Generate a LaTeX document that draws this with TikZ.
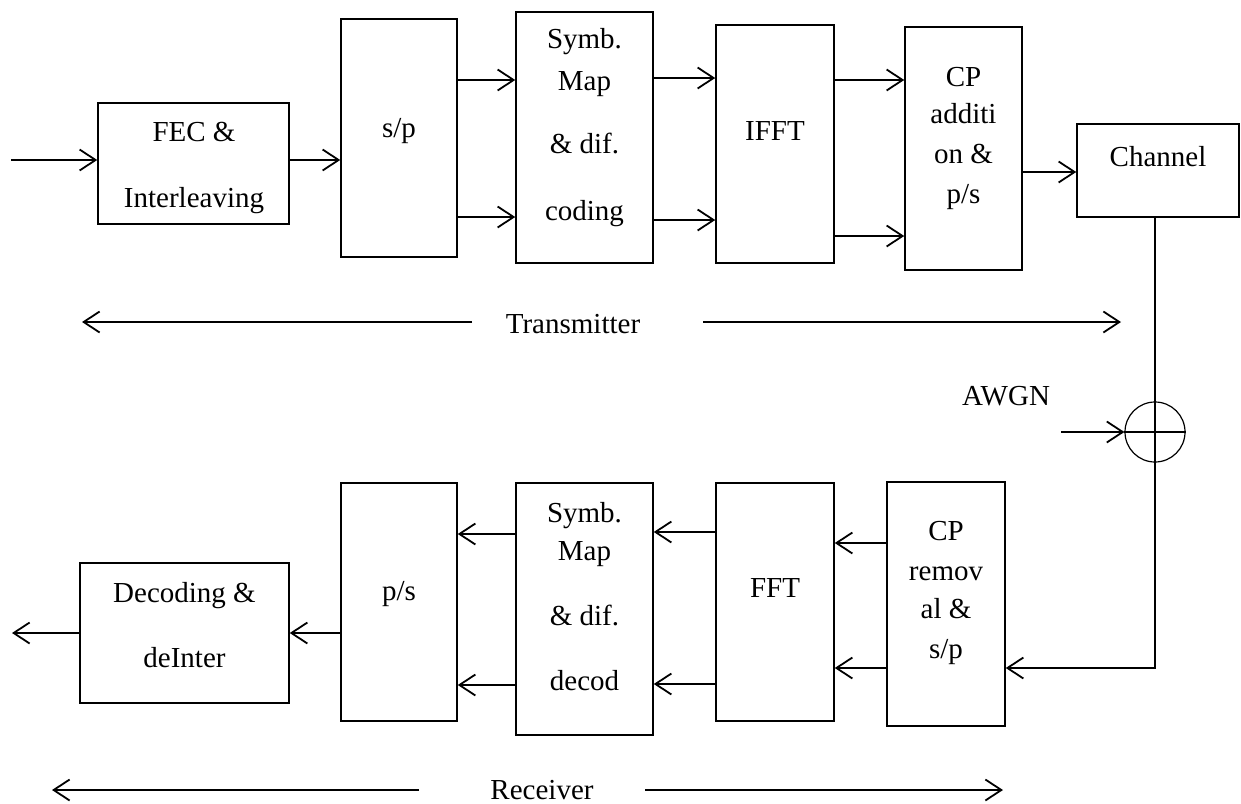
\documentclass[tikz,border=0pt]{standalone}
\usepackage{fontspec}
\setmainfont{Liberation Serif}
\usetikzlibrary{arrows.meta}
\begin{document}
\begin{tikzpicture}[x=1pt,y=-1pt,
  blk/.style={draw, line width=1.5pt, rectangle, inner sep=0pt},
  lbl/.style={font=\fontsize{29}{33}\selectfont, inner sep=0pt, anchor=base},
  arr/.style={line width=1.8pt, -{Straight Barb[length=16pt,width=21pt,line width=1.8pt]}},
  ln/.style={line width=1.8pt}]
\useasboundingbox (0,0) rectangle (1241,803);
% ---------- transmitter blocks ----------
\node[blk, minimum width=191pt, minimum height=121pt] (fec)  at (193.5,163.5) {};
\node[blk, minimum width=116pt, minimum height=238pt] (sp)   at (399,138) {};
\node[blk, minimum width=137pt, minimum height=251pt] (sym)  at (584.5,137.5) {};
\node[blk, minimum width=118pt, minimum height=238pt] (ifft) at (775,144) {};
\node[blk, minimum width=117pt, minimum height=243pt] (cpa)  at (963.5,148.5) {};
\node[blk, minimum width=162pt, minimum height=93pt]  (chan) at (1158,170.5) {};
% ---------- receiver blocks ----------
\node[blk, minimum width=118pt, minimum height=244pt] (cpr)  at (946,604) {};
\node[blk, minimum width=118pt, minimum height=238pt] (fft)  at (775,602) {};
\node[blk, minimum width=137pt, minimum height=252pt] (symd) at (584.5,609) {};
\node[blk, minimum width=116pt, minimum height=238pt] (ps)   at (399,602) {};
\node[blk, minimum width=209pt, minimum height=140pt] (dec)  at (184.5,633) {};
\node[draw, line width=1.2pt, circle, minimum size=60pt, inner sep=0pt] (sum) at (1155,432) {};
% ---------- texts ----------
\node[lbl] (t1) at (194,141) {FEC \&};
\node[lbl] (t2) at (194,207) {Interleaving};
\node[lbl] (t3) at (399,137) {s/p};
\node[lbl] (t4) at (584.5,48) {Symb.};
\node[lbl] (t5) at (584.5,90) {Map};
\node[lbl] (t6) at (584.5,153) {\& dif.};
\node[lbl] (t7) at (584.5,220) {coding};
\node[lbl] (t8) at (775,140) {IFFT};
\node[lbl] (t9) at (963.5,86) {CP};
\node[lbl] (t10) at (963.5,123) {additi};
\node[lbl] (t11) at (963.5,163) {on \&};
\node[lbl] (t12) at (963.5,203) {p/s};
\node[lbl] (t13) at (1158,166) {Channel};
\node[lbl] (t14) at (1006,405) {AWGN};
\node[lbl] (t15) at (946,540) {CP};
\node[lbl] (t16) at (946,580) {remov};
\node[lbl] (t17) at (946,618) {al \&};
\node[lbl] (t18) at (946,658) {s/p};
\node[lbl] (t19) at (775,597) {FFT};
\node[lbl] (t20) at (584.5,522) {Symb.};
\node[lbl] (t21) at (584.5,560) {Map};
\node[lbl] (t22) at (584.5,625) {\& dif.};
\node[lbl] (t23) at (584.5,690) {decod};
\node[lbl] (t24) at (399,600) {p/s};
\node[lbl] (t25) at (184.5,602) {Decoding \&};
\node[lbl] (t26) at (184.5,667) {deInter};
\node[lbl] (tx) at (573,333) {Transmitter};
\node[lbl] (rx) at (542,799) {Receiver};
% ---------- row coordinates ----------
\coordinate (in)  at (11,160);
\coordinate (r80) at (0,80);
\coordinate (r217) at (0,217);
\coordinate (r78) at (0,78);
\coordinate (r220) at (0,220);
\coordinate (r236) at (0,236);
\coordinate (r172) at (0,172);
\coordinate (awgn) at (1061,432);
\coordinate (r668) at (0,668);
\coordinate (r543) at (0,543);
\coordinate (r532) at (0,532);
\coordinate (r684) at (0,684);
\coordinate (r534) at (0,534);
\coordinate (r685) at (0,685);
\coordinate (out) at (12,633);
\coordinate (txa) at (472,322);
\coordinate (txb) at (82,322);
\coordinate (txc) at (703,322);
\coordinate (txd) at (1121,322);
\coordinate (rxa) at (419,790);
\coordinate (rxb) at (52,790);
\coordinate (rxc) at (645,790);
\coordinate (rxd) at (1003,790);
% ---------- transmitter connectors ----------
\draw[arr] (in) -- (in -| fec.west);
\draw[arr] (fec.east |- in) -- (sp.west |- in);
\draw[arr] (sp.east |- r80) -- (sym.west |- r80);
\draw[arr] (sp.east |- r217) -- (sym.west |- r217);
\draw[arr] (sym.east |- r78) -- (ifft.west |- r78);
\draw[arr] (sym.east |- r220) -- (ifft.west |- r220);
\draw[arr] (ifft.east |- r80) -- (cpa.west |- r80);
\draw[arr] (ifft.east |- r236) -- (cpa.west |- r236);
\draw[arr] (cpa.east |- r172) -- (chan.west |- r172);
% ---------- channel, noise ----------
\draw[ln] (sum |- chan.south) -- (sum.north);
\draw[line width=1.2pt] (sum.north) -- (sum.south);
\draw[line width=1.2pt] (sum.west) -- (sum.east);
\draw[arr] (awgn) -- (sum.west);
\draw[arr] (sum.south) -- (sum |- r668) -- (cpr.east |- r668);
% ---------- receiver connectors ----------
\draw[arr] (cpr.west |- r543) -- (fft.east |- r543);
\draw[arr] (cpr.west |- r668) -- (fft.east |- r668);
\draw[arr] (fft.west |- r532) -- (symd.east |- r532);
\draw[arr] (fft.west |- r684) -- (symd.east |- r684);
\draw[arr] (symd.west |- r534) -- (ps.east |- r534);
\draw[arr] (symd.west |- r685) -- (ps.east |- r685);
\draw[arr] (ps.west |- out) -- (dec.east |- out);
\draw[arr] (dec.west |- out) -- (out);
% ---------- span arrows ----------
\draw[arr] (txa) -- (txb);
\draw[arr] (txc) -- (txd);
\draw[arr] (rxa) -- (rxb);
\draw[arr] (rxc) -- (rxd);
\end{tikzpicture}
\end{document}
